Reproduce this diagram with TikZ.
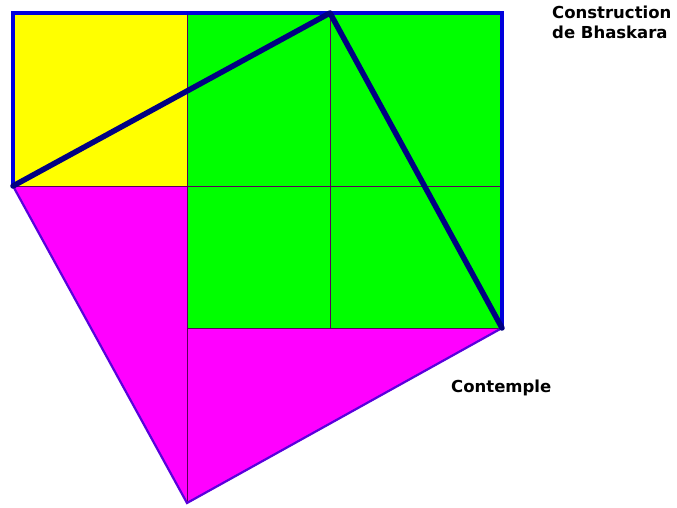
\documentclass[tikz,border=0pt]{standalone}
\usepackage{fontspec}
\setmainfont{DejaVu Sans}
\definecolor{cyel}{RGB}{255,255,0}
\definecolor{cgrn}{RGB}{0,255,0}
\definecolor{cmag}{RGB}{255,0,255}
\definecolor{cblue}{RGB}{0,0,220}
\definecolor{cnavy}{RGB}{0,0,130}
\definecolor{cedge}{RGB}{90,0,220}
\definecolor{cthin}{RGB}{90,0,90}
\begin{document}
\begin{tikzpicture}[x=1pt,y=-1pt,
  thin line/.style={draw=cthin, line width=0.9pt},
  border/.style={draw=cblue, line width=4pt},
  navy/.style={draw=cnavy, line width=5.5pt, line cap=round, line join=round},
  edge/.style={draw=cedge, line width=2.2pt},
  lbl/.style={font=\bfseries\fontsize{16.5}{20}\selectfont, inner sep=0pt}]
\useasboundingbox (0,0) rectangle (677,508);
\coordinate (A) at (13,13);
\coordinate (B) at (187,13);
\coordinate (T) at (330,13);
\coordinate (C) at (502,13);
\coordinate (L) at (13,186);
\coordinate (M) at (187,186);
\coordinate (N) at (330,186);
\coordinate (R) at (502,186);
\coordinate (P) at (187,328);
\coordinate (Q) at (330,328);
\coordinate (S) at (502,328);
\coordinate (D) at (187,503);
% fills
\fill[cyel] (A) rectangle (M);
\fill[cgrn] (B) rectangle (S);
\fill[cmag] (L) -- (M) -- (P) -- (S) -- (D) -- cycle;
% thin grid lines
\draw[thin line] (L) -- (R);
\draw[thin line] (P) -- (S);
\draw[thin line] (B) -- (D);
\draw[thin line] (T) -- (Q);
% magenta edges
\draw[edge] (L) -- (D) -- (S);
% blue border
\draw[border] (L) -- (A) -- (C) -- (S);
% navy triangle sides
\draw[navy] (L) -- (T) -- (S);
% labels
\node[lbl, anchor=base west] (t1) at (552,19) {Construction};
\node[lbl, anchor=base west] (t1b) at (552,39) {de Bhaskara};
\node[lbl, anchor=base west] (t2) at (451,392) {Contemple};
\end{tikzpicture}
\end{document}
